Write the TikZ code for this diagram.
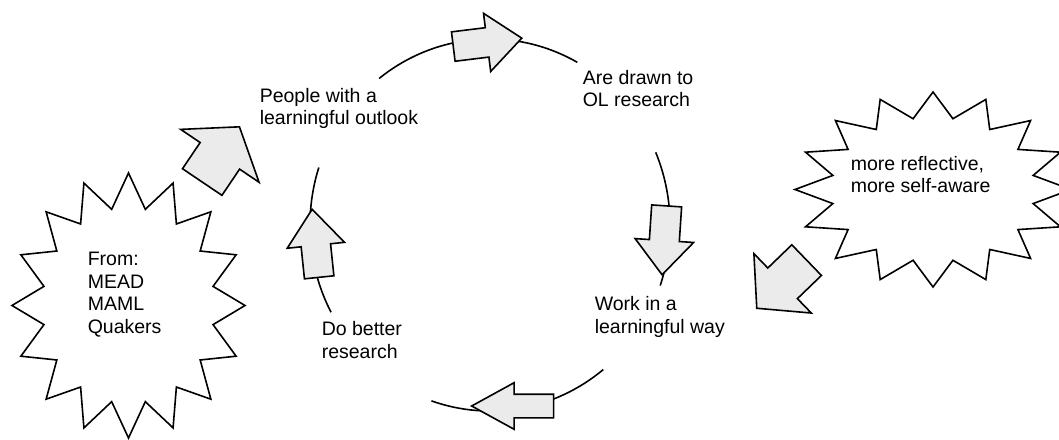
\documentclass[tikz,border=0pt]{standalone}
\usepackage{fontspec}
\setmainfont{Liberation Sans}
\usetikzlibrary{shapes.arrows}
\tikzset{
  blockarrow/.style={single arrow, draw, line width=1.6pt, fill=black!8, inner xsep=0pt, minimum width=0pt, single arrow head indent=0pt, anchor=tip},
  cycletext/.style={anchor=base west, inner sep=0pt, align=left, font=\fontsize{19.5}{22.4}\selectfont},
}
\begin{document}
\begin{tikzpicture}[x=1pt,y=1pt,line width=1.6pt]
\useasboundingbox (0,0) rectangle (1059,439);
% the two bursts
\draw plot[samples at={0,...,31}, variable=\k] ({128.5+116.5*(1-0.26*mod(\k,2))*cos(90+11.25*\k)}, {133.5+132.5*(1-0.26*mod(\k,2))*sin(90+11.25*\k)}) -- cycle;
\draw plot[samples at={0,...,31}, variable=\k] ({933+138*(1-0.26*mod(\k,2))*cos(90+11.25*\k)}, {249.5+97.5*(1-0.26*mod(\k,2))*sin(90+11.25*\k)}) -- cycle;
% the cycle
\coordinate (cyc) at (490,214);
\draw (cyc) ++(128:180 and 186) arc (128:61:180 and 186);
\draw (cyc) ++(23:180 and 186) arc (23:-19:180 and 186);
\draw (cyc) ++(-51:180 and 186) arc (-51:-109:180 and 186);
\draw (cyc) ++(208:180 and 186) arc (208:162:180 and 186);
% arrows
\node[blockarrow, rotate=7, minimum height=69pt, inner ysep=14pt, single arrow head extend=14.5pt, single arrow tip angle=80] (arrTop) at (523,401) {};
\node[blockarrow, rotate=-93.8, minimum height=69pt, inner ysep=14.2pt, single arrow head extend=14.3pt, single arrow tip angle=81] (arrRight) at (662,163) {};
\node[blockarrow, rotate=180, minimum height=82pt, inner ysep=11pt, single arrow head extend=11.5pt, single arrow tip angle=57.5] (arrBottom) at (470,33) {};
\node[blockarrow, rotate=95.9, minimum height=68.4pt, inner ysep=14pt, single arrow head extend=14pt, single arrow tip angle=77] (arrLeft) at (312,231) {};
\node[blockarrow, rotate=224, minimum height=69.3pt, inner ysep=20.5pt, single arrow head extend=20pt, single arrow tip angle=98] (arrReflect) at (756,130) {};
\node[blockarrow, rotate=56, minimum height=66.6pt, inner ysep=23pt, single arrow head extend=23.5pt, single arrow tip angle=107] (arrFrom) at (240,313) {};
% texts (base = last line)
\node[cycletext] (people) at (259,314) {People with a\\learningful outlook};
\node[cycletext] (drawn) at (582,332) {Are drawn to\\OL research};
\node[cycletext] (work) at (594,106) {Work in a\\learningful way};
\node[cycletext] (better) at (321,81) {Do better\\research};
\node[cycletext] (from) at (87,106) {From:\\MEAD\\MAML\\Quakers};
\node[cycletext] (reflect) at (850,246) {more reflective,\\more self-aware};
\end{tikzpicture}
\end{document}
